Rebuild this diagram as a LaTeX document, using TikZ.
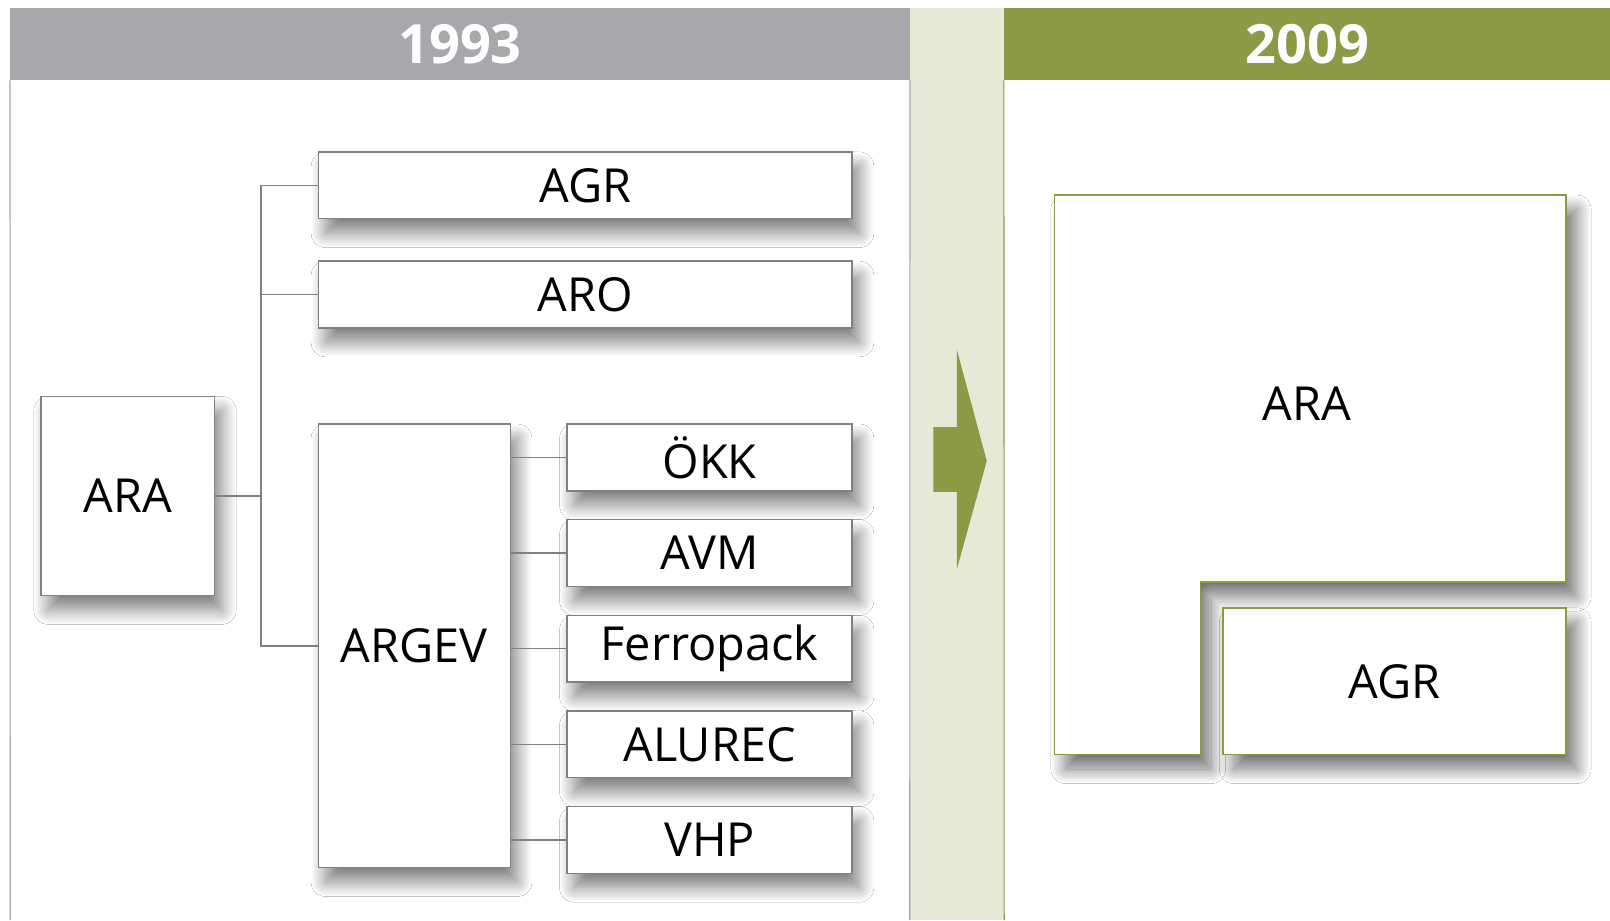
\documentclass[tikz,border=0pt]{standalone}
\usepackage{fontspec}
\setmainfont{Open Sans}
\usetikzlibrary{positioning, shadows.blur}

\definecolor{boxgray}{RGB}{128,128,128}
\definecolor{headgray}{RGB}{166,168,171}
\definecolor{leafgreen}{RGB}{139,154,69}
\definecolor{stripgreen}{RGB}{229,233,213}

\begin{document}
\begin{tikzpicture}[x=0.02cm, y=-0.02cm, font=\fontsize{26}{31}\selectfont]
  \tikzset{
    box/.style={
      draw=boxgray,
      line width=0.8pt,
      fill=white,
      inner sep=0pt,
      minimum height=1.3cm,
      blur shadow={shadow xshift=4pt, shadow yshift=-8pt,
        shadow blur radius=8pt, shadow blur steps=24, shadow opacity=50},
      text centered},
    wide/.style={box, minimum width=10.4cm},
    small/.style={box, minimum width=5.56cm},
    link/.style={draw=boxgray, line width=0.8pt},
    head/.style={
      inner sep=0pt,
      minimum height=1.4cm,
      text=white,
      font=\fontsize{30}{35}\selectfont\bfseries},
    greenbox/.style={
      draw=leafgreen,
      line width=0.8pt,
      fill=white,
      inner sep=0pt,
      blur shadow={shadow xshift=6pt, shadow yshift=-8pt,
        shadow blur radius=8pt, shadow blur steps=24, shadow opacity=55}}}

  \useasboundingbox (0,0) rectangle (1568,896);
  \fill[white] (0,0) rectangle (1568,896);
  \fill[stripgreen] (886,8) rectangle (978,896);

  % headers
  \node[head, fill=headgray, minimum width=17.52cm] (y1993) at (448,43) {1993};
  \node[head, fill=leafgreen, minimum width=11.8cm] (y2009) at (1273,43) {2009};
  \draw[boxgray!70, line width=0.6pt] (y1993.south west) -- (10,896);
  \draw[boxgray!70, line width=0.6pt] (y1993.south east) -- (886,896);
  \draw[leafgreen, line width=0.6pt] (y2009.south west) -- (978,896);

  % arrow
  \fill[leafgreen] (909,416) -- (932,416) -- (932,341) -- (961,449)
    -- (932,554) -- (932,479) -- (909,479) -- cycle;

  % 1993
  \node[box, minimum width=3.38cm, minimum height=3.88cm] (ara) at (124.5,483) {ARA};
  \node[wide] (agr) at (570,180.5) {AGR};
  \node[wide] (aro) [below=0.8cm of agr] {ARO};
  \node[box, minimum width=3.74cm, minimum height=8.64cm] (argev) at (403.5,629) {ARGEV};
  \node[small] (okk) at (691,445.5) {ÖKK};
  \node[small] (avm) [below=0.535cm of okk] {AVM};
  \node[small] (ferro) [below=0.535cm of avm] {Ferropack};
  \node[small] (alurec) [below=0.535cm of ferro] {ALUREC};
  \node[small] (vhp) [below=0.535cm of alurec] {VHP};

  \coordinate (fork) at (254,483);
  \draw[link] (ara) -- (fork);
  \foreach \n in {agr, aro, argev}
    \draw[link] (fork) |- (\n);
  \foreach \n in {okk, avm, ferro, alurec, vhp}
    \draw[link] (argev.east |- \n) -- (\n);

  % 2009
  \draw[greenbox] (1027,190) -- (1525,190) -- (1525,567) -- (1169,567)
    -- (1169,735) -- (1027,735) -- cycle;
  \node (ara2) at (1273,393) {ARA};
  \node[greenbox, minimum width=6.68cm, minimum height=2.86cm] (agr2) at (1358,663.5) {AGR};

\end{tikzpicture}
\end{document}
